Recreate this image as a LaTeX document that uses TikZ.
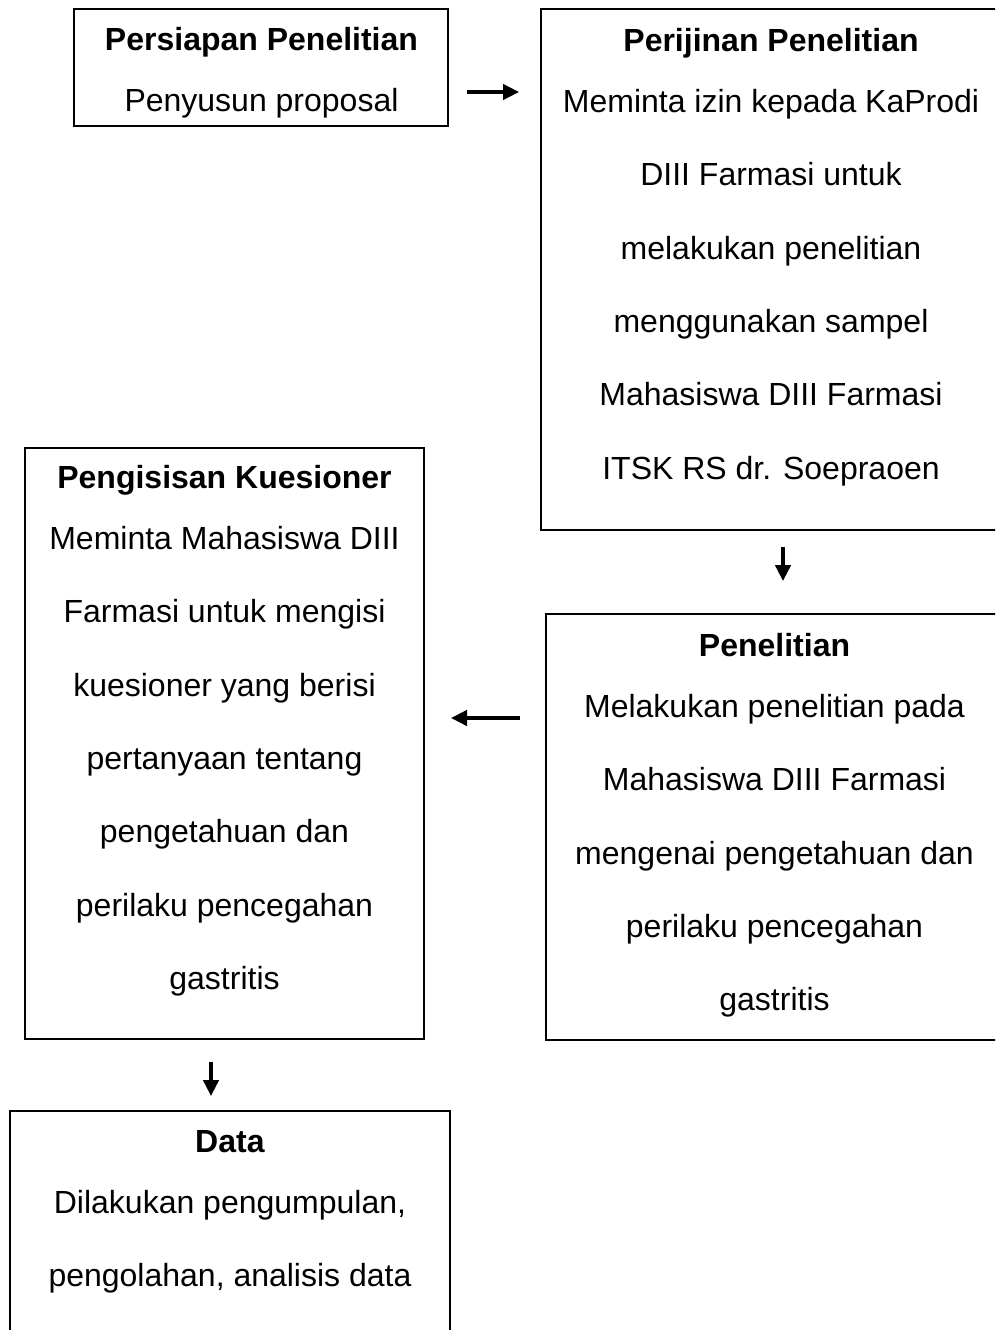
\documentclass[tikz,border=0pt]{standalone}
\usepackage{fontspec}
\setmainfont{Liberation Sans}
\usetikzlibrary{arrows.meta}
\tikzset{
  box/.style={draw=black, line width=1.5pt, rectangle, inner sep=0pt, outer sep=0pt, anchor=north west},
  txt/.style={align=center, anchor=north, inner sep=0pt, font=\fontsize{24}{55.05}\selectfont},
  arr/.style={line width=2.6pt, -{Triangle[length=12pt,width=11.5pt]}}
}
\newcommand{\ttl}[1]{\rule{0pt}{20pt}\textbf{#1}\\[-9.3pt]}
\begin{document}
\begin{tikzpicture}[x=0.75pt,y=-0.75pt]
\useasboundingbox (0,0) rectangle (995,1330);
\clip (0,0) rectangle (995,1330);
% boxes
\node[box, minimum width=280.5pt, minimum height=87.75pt] (b1) at (74,9) {};
\node[box, minimum width=345pt, minimum height=390.75pt] (b2) at (541,9) {};
\node[box, minimum width=342.75pt, minimum height=319.5pt] (b3) at (546,614) {};
\node[box, minimum width=299.25pt, minimum height=443.25pt] (b4) at (25,448) {};
\node[box, minimum width=330pt, minimum height=171.75pt] (b5) at (10,1111) {};
% texts
\node[txt] (t1) at (261.5,23.33) {\ttl{Persiapan Penelitian}Penyusun proposal};
\node[txt] (t2) at (771,24.33) {\ttl{Perijinan Penelitian}Meminta izin kepada KaProdi\\DIII Farmasi untuk\\melakukan penelitian\\menggunakan sampel\\Mahasiswa DIII Farmasi\\ITSK RS dr. Soepraoen};
\node[txt] (t3) at (774.5,629.33) {\ttl{Penelitian}Melakukan penelitian pada\\Mahasiswa DIII Farmasi\\mengenai pengetahuan dan\\perilaku pencegahan\\gastritis};
\node[txt] (t4) at (224.5,461.33) {\ttl{Pengisisan Kuesioner}Meminta Mahasiswa DIII\\Farmasi untuk mengisi\\kuesioner yang berisi\\pertanyaan tentang\\pengetahuan dan\\perilaku pencegahan\\gastritis};
\node[txt] (t5) at (230,1125.33) {\ttl{Data}Dilakukan pengumpulan,\\pengolahan, analisis data};
% arrows
\coordinate (a1s) at (467,92);  \coordinate (a1e) at (519,92);
\coordinate (a2s) at (783,547); \coordinate (a2e) at (783,581);
\coordinate (a3s) at (520,718); \coordinate (a3e) at (451,718);
\coordinate (a4s) at (211,1062); \coordinate (a4e) at (211,1096);
\draw[arr] (a1s) -- (a1e);
\draw[arr] (a2s) -- (a2e);
\draw[arr] (a3s) -- (a3e);
\draw[arr] (a4s) -- (a4e);
\end{tikzpicture}
\end{document}
